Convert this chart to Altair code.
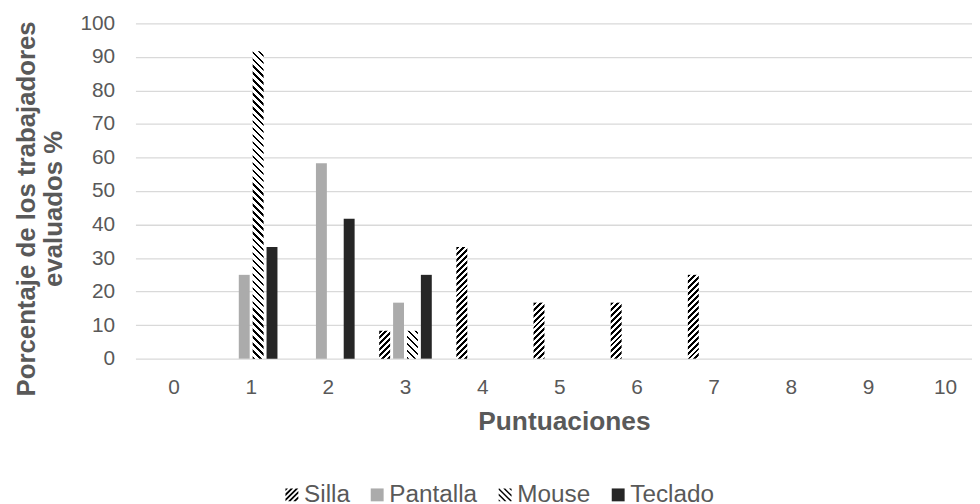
import math
import altair as alt

# ---- data ----
categories = list(range(11))
series = ["Silla", "Pantalla", "Mouse", "Teclado"]
silla = [0, 0, 0, 8.3, 33.3, 16.7, 16.7, 25, 0, 0, 0]
pantalla = [0, 25, 58.3, 16.7, 0, 0, 0, 0, 0, 0, 0]
mouse = [0, 91.7, 0, 8.3, 0, 0, 0, 0, 0, 0, 0]
teclado = [0, 33.3, 41.7, 25, 0, 0, 0, 0, 0, 0, 0]
y_ticks = list(range(0, 101, 10))
y_title = ["Porcentaje de los trabajadores", "evaluados %"]
x_title = "Puntuaciones"

FONT = "Liberation Sans"
TXT = "#595959"
PX_PER_UNIT = 3.38   # plot height / 100 (only used for pattern density)
BAR_W = 11


def stripe_gradient(h, period, frac, direction, fg="#000000", bg="#ffffff"):
    """Linear gradient (bounding-box units) that draws 45deg stripes."""
    w = BAR_W
    total = w + h
    k = total / (w * w + h * h)
    if direction == "/":
        x1, y1, x2, y2 = 0, 0, k * w, k * h
    else:
        x1, y1, x2, y2 = 0, 1, k * w, 1 - k * h
    stops = []
    n = int(math.ceil(total / period))
    for i in range(n):
        a = min(i * period / total, 1)
        b = min((i * period + frac * period) / total, 1)
        c = min((i + 1) * period / total, 1)
        stops += [
            {"offset": round(a, 4), "color": fg},
            {"offset": round(b, 4), "color": fg},
            {"offset": round(b, 4), "color": bg},
            {"offset": round(c, 4), "color": bg},
        ]
    return {"gradient": "linear", "x1": x1, "y1": y1,
            "x2": round(x2, 5), "y2": round(y2, 5), "stops": stops}


def stripe_path(period, frac, direction):
    """SVG path of stripes inside the [-1,1] square (legend symbols)."""
    sq = [(-1, -1), (1, -1), (1, 1), (-1, 1)]
    f = (lambda p: p[0] + p[1]) if direction == "/" else (lambda p: p[0] - p[1])

    def clip(poly, g):
        out = []
        for i in range(len(poly)):
            p, q = poly[i], poly[(i + 1) % len(poly)]
            gp, gq = g(p), g(q)
            if gp >= 0:
                out.append(p)
            if (gp >= 0) != (gq >= 0):
                t = gp / (gp - gq)
                out.append((p[0] + t * (q[0] - p[0]), p[1] + t * (q[1] - p[1])))
        return out

    parts = []
    lo = -2.0
    while lo < 2.0:
        hi = lo + frac * period
        poly = clip(sq, lambda p, lo=lo: f(p) - lo)
        poly = clip(poly, lambda p, hi=hi: hi - f(p))
        if len(poly) >= 3:
            parts.append("M" + "L".join(f"{x:.3f},{y:.3f}" for x, y in poly) + "Z")
        lo += period
    return "".join(parts)


values = {"Silla": silla, "Pantalla": pantalla, "Mouse": mouse, "Teclado": teclado}
rows = []
for s in series:
    for c, v in zip(categories, values[s]):
        if v <= 0:
            continue
        h = v * PX_PER_UNIT
        if s == "Silla":
            pat = stripe_gradient(h, 6, 0.5, "/")
        elif s == "Mouse":
            pat = stripe_gradient(h, 7, 0.35, "\\")
        elif s == "Pantalla":
            pat = "#ababab"
        else:
            pat = "#262626"
        rows.append({"score": c, "serie": s, "v": v, "pat": pat})

legend_colors = ["#000000", "#ababab", "#000000", "#262626"]
legend_shapes = [stripe_path(0.8, 0.5, "/"), "square", stripe_path(0.9, 0.35, "\\"), "square"]

legend = alt.Legend(
    title=None, orient="none", direction="horizontal",
    legendX=145.5, legendY=463,
    labelFont=FONT, labelFontSize=24.5, labelColor=TXT,
    symbolSize=169, symbolStrokeWidth=0, labelOffset=0, columnPadding=15,
)

bars = alt.Chart(alt.Data(values=rows)).mark_bar().encode(
    x=alt.X(
        "score:O",
        scale=alt.Scale(domain=categories, range=[0, 855.8], paddingInner=0, paddingOuter=0),
        axis=alt.Axis(
            labelAngle=0, domain=False, ticks=False, grid=False,
            labelFont=FONT, labelFontSize=21, labelColor=TXT, labelPadding=18,
            title=x_title, titleFont=FONT, titleFontSize=26.5, titleFontWeight="bold",
            titleColor=TXT, titleX=432, titleY=71, titleAlign="center",
            titleBaseline="alphabetic",
        ),
    ),
    xOffset=alt.XOffset(
        "serie:N",
        scale=alt.Scale(domain=series, paddingInner=0.214, paddingOuter=0.886),
    ),
    y=alt.Y(
        "v:Q",
        scale=alt.Scale(domain=[0, 100]),
        axis=alt.Axis(
            values=y_ticks, grid=True, gridColor="#d9d9d9", gridWidth=1.3,
            domain=False, ticks=False,
            labelFont=FONT, labelFontSize=21, labelColor=TXT, labelPadding=21,
            title=y_title, titleFont=FONT, titleFontSize=26, titleFontWeight="bold",
            titleColor=TXT, titleAngle=270, titleAlign="center", titleBaseline="middle",
            titleLineHeight=27, titleX=-110, titleY=186.5,
        ),
    ),
    fill=alt.Fill("pat:N", scale=None, legend=None),
)

legend_layer = alt.Chart(alt.Data(values=rows)).transform_filter("false").mark_point(
    filled=True, opacity=1
).encode(
    color=alt.Color("serie:N", scale=alt.Scale(domain=series, range=legend_colors), legend=legend),
    shape=alt.Shape("serie:N", scale=alt.Scale(domain=series, range=legend_shapes), legend=legend),
)

chart = alt.layer(bars, legend_layer).properties(
    width=843.5,
    height=338,
    autosize=alt.AutoSizeParams(type="none"),
    padding={"left": 128.5, "top": 13.5, "right": 0, "bottom": 144.5},
    background="#ffffff",
).configure_view(stroke=None)

chart.save("out.html", embed_options={"renderer": "svg", "actions": False})
